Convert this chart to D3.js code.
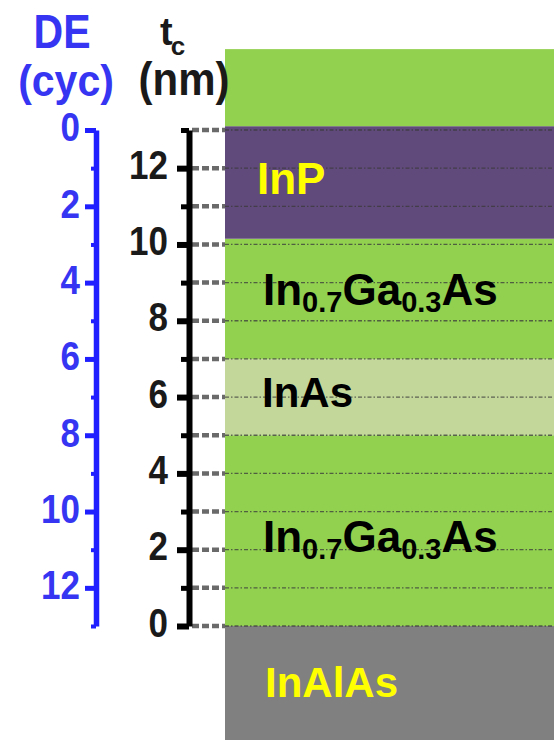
<!DOCTYPE html>
<meta charset="utf-8">
<script src="https://d3js.org/d3.v7.min.js"></script>
<style>
  body { margin: 0; background: #fff; }
  svg text { font-family: "Liberation Sans", Arial, sans-serif; font-weight: bold; }
</style>
<body>
<div id="chart"></div>
<script>
// layer stack, thickness in nm (top of the picture is the top of the stack)
var layerNames = ["InAlAs", "In0.7Ga0.3As", "InAs", "In0.7Ga0.3As", "InP", "cap"];
var layerFrom  = [-3.0, 0, 5, 7, 10.15, 13.1];
var layerTo    = [0, 5, 7, 10.15, 13.1, 15.12];

// axis ticks
var tcMajor = [0, 2, 4, 6, 8, 10, 12];
var tcMinor = [1, 3, 5, 7, 9, 11, 13];
var deMajor = [0, 2, 4, 6, 8, 10, 12];
var deMinor = [1, 3, 5, 7, 9, 11, 13];
var gridLevels = [0, 1, 2, 3, 4, 5, 6, 7, 8, 9, 10, 11, 12, 13];

var layerColor = ["#808080", "#92d050", "#c4d79b", "#92d050", "#604a7b", "#92d050"];

var width = 554, height = 740;
var boxLeft = 225;

var svg = d3.select("#chart").append("svg")
    .attr("width", width)
    .attr("height", height);

// both scales share the same pixel span
var y = d3.scaleLinear().domain([0, 13]).range([626, 130]);
var yDE = d3.scaleLinear().domain([0, 13]).range([130, 626]);

// layers
svg.selectAll("rect.layer")
  .data(layerNames)
  .enter().append("rect")
    .attr("class", "layer")
    .attr("x", boxLeft)
    .attr("width", width - boxLeft + 10)
    .attr("y", function(d, i) { return y(layerTo[i]); })
    .attr("height", function(d, i) { return y(layerFrom[i]) - y(layerTo[i]); })
    .attr("fill", function(d, i) { return layerColor[i]; });

// thin dotted lines across the stack
svg.selectAll("line.dot")
  .data(gridLevels)
  .enter().append("line")
    .attr("x1", boxLeft).attr("x2", width)
    .attr("y1", function(d) { return y(d); })
    .attr("y2", function(d) { return y(d); })
    .attr("stroke", "#3a3a3a")
    .attr("stroke-opacity", 0.75)
    .attr("stroke-width", 1.3)
    .attr("stroke-dasharray", "4,2,1.5,2");

// thick grey dashes between axis and stack
svg.selectAll("line.dash")
  .data(gridLevels)
  .enter().append("line")
    .attr("x1", 192).attr("x2", boxLeft)
    .attr("y1", function(d) { return y(d); })
    .attr("y2", function(d) { return y(d); })
    .attr("stroke", "#6a6a6a")
    .attr("stroke-width", 4.5)
    .attr("stroke-dasharray", "7,3");

// t_c axis (black)
var tcAxis = svg.append("g")
    .attr("transform", "translate(189,0)")
    .call(d3.axisLeft(y).tickValues(tcMajor).tickSize(12).tickSizeOuter(0).tickPadding(8));
tcAxis.select(".domain").attr("stroke", "#000").attr("stroke-width", 6);
tcAxis.selectAll(".tick line").attr("stroke", "#000").attr("stroke-width", 6);
tcAxis.selectAll(".tick text")
    .attr("fill", "#1a1a1a")
    .attr("font-size", 35)
    .attr("x", -21)
    .attr("dy", "0.25em")
    .attr("transform", "scale(1,1.15)");

var tcMinorAxis = svg.append("g")
    .attr("transform", "translate(189,0)")
    .call(d3.axisLeft(y).tickValues(tcMinor).tickSize(8).tickSizeOuter(0).tickFormat(""));
tcMinorAxis.select(".domain").remove();
tcMinorAxis.selectAll(".tick line").attr("stroke", "#000").attr("stroke-width", 5);

// DE axis (blue)
var deAxis = svg.append("g")
    .attr("transform", "translate(96,0)")
    .call(d3.axisLeft(yDE).tickValues(deMajor).tickSize(11).tickSizeOuter(0).tickPadding(8));
deAxis.select(".domain").attr("stroke", "#1f1fff").attr("stroke-width", 5.5);
deAxis.selectAll(".tick line").attr("stroke", "#1f1fff").attr("stroke-width", 5);
deAxis.selectAll(".tick text")
    .attr("fill", "#3535f2")
    .attr("font-size", 35)
    .attr("x", -16)
    .attr("dy", "0.27em")
    .attr("transform", "scale(1,1.15)");

var deMinorAxis = svg.append("g")
    .attr("transform", "translate(96,0)")
    .call(d3.axisLeft(yDE).tickValues(deMinor).tickSize(5).tickSizeOuter(0).tickFormat(""));
deMinorAxis.select(".domain").remove();
deMinorAxis.selectAll(".tick line").attr("stroke", "#1f1fff").attr("stroke-width", 4);

// axis titles
svg.append("text")
    .attr("transform", "translate(62,48) scale(1,1.19)")
    .attr("text-anchor", "middle")
    .attr("font-size", 41)
    .attr("fill", "#3535f2")
    .text("DE");
svg.append("text")
    .attr("transform", "translate(66,96) scale(1,1.1)")
    .attr("text-anchor", "middle")
    .attr("font-size", 41)
    .attr("fill", "#3535f2")
    .text("(cyc)");

var tTitle = svg.append("text")
    .attr("x", 160).attr("y", 45)
    .attr("font-size", 38)
    .attr("fill", "#1a1a1a");
tTitle.append("tspan").text("t");
tTitle.append("tspan").attr("font-size", 26).attr("dx", -2).attr("dy", 10).text("c");

svg.append("text")
    .attr("transform", "translate(184,95) scale(1,1.1)")
    .attr("text-anchor", "middle")
    .attr("font-size", 42)
    .attr("fill", "#1a1a1a")
    .text("(nm)");

// layer labels
function compound(g, x, yy, fill) {
  var t = g.append("text").attr("x", x).attr("y", yy).attr("font-size", 44).attr("fill", fill);
  t.append("tspan").text("In");
  t.append("tspan").attr("font-size", 29).attr("dy", 7).text("0.7");
  t.append("tspan").attr("dy", -7).text("Ga");
  t.append("tspan").attr("font-size", 29).attr("dy", 7).text("0.3");
  t.append("tspan").attr("dy", -7).text("As");
}

var labelPos = [
  {i: 0, x: 265, y: 697, fill: "#ffff00"},
  {i: 1, x: 263, y: 552, fill: "#000"},
  {i: 2, x: 262, y: 407, fill: "#000"},
  {i: 3, x: 263, y: 305, fill: "#000"},
  {i: 4, x: 257, y: 194, fill: "#ffff00"}
];
labelPos.forEach(function(p) {
  var name = layerNames[p.i];
  if (name === "In0.7Ga0.3As") {
    compound(svg, p.x, p.y, p.fill);
  } else {
    svg.append("text")
      .attr("x", p.x).attr("y", p.y)
      .attr("font-size", name === "InP" ? 44 : 42)
      .attr("fill", p.fill)
      .text(name);
  }
});
</script>
</body>
